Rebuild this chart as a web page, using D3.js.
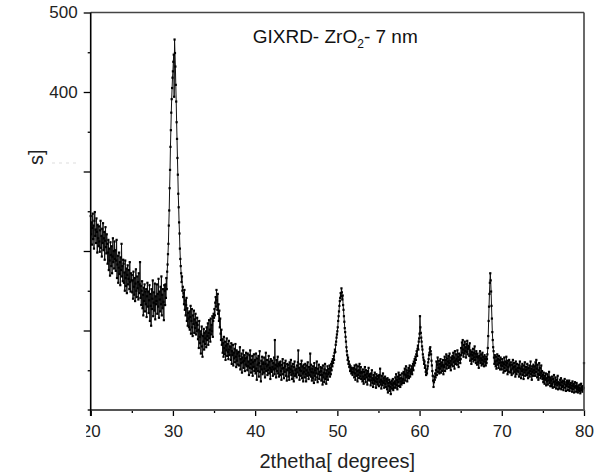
<!DOCTYPE html>
<html>
<head>
<meta charset="utf-8">
<script src="https://cdn.jsdelivr.net/npm/d3@7"></script>
<style>
  body { margin: 0; background: #fff; }
  svg { display: block; font-family: "Liberation Sans", Arial, sans-serif; }
</style>
</head>
<body>
<div id="chart"></div>
<script>
// GIXRD scan, counts every 0.05 degree (one row = one degree)
const startAngle = 20;
const stepAngle = 0.05;

const counts20to30 = [
    244, 221, 236, 208, 229, 247, 215, 232, 203, 238, 249, 219, 227, 210, 241, 224, 198, 233, 216, 206,
    231, 212, 199, 226, 238, 204, 219, 193, 228, 210, 235, 201, 216, 224, 189, 213, 230, 205, 197, 221,
    209, 184, 198, 214, 176, 203, 188, 169, 211, 195, 181, 206, 172, 193, 216, 186, 200, 178, 212, 190,
    201, 175, 188, 214, 166, 183, 194, 160, 179, 198, 171, 186, 157, 192, 176, 209, 168, 181, 162, 189,
    184, 160, 173, 150, 188, 166, 156, 178, 147, 170, 182, 158, 165, 176, 152, 186, 161, 149, 172, 163,
    170, 148, 163, 140, 174, 155, 145, 166, 137, 159, 177, 150, 142, 168, 153, 161, 139, 172, 147, 158,
    186, 141, 156, 132, 150, 162, 128, 145, 119, 154, 137, 158, 124, 149, 133, 152, 117, 143, 160, 130,
    149, 122, 138, 157, 112, 146, 131, 106, 152, 127, 140, 163, 118, 135, 148, 125, 159, 114, 143, 133,
    137, 158, 121, 146, 130, 165, 116, 149, 139, 124, 155, 133, 168, 119, 145, 128, 152, 136, 113, 157,
    150, 132, 158, 141, 166, 152, 174, 183, 196, 209, 232, 251, 279, 302, 331, 352, 374, 391, 405, 418
];
const counts30to40 = [
    426, 438, 447, 394, 466, 449, 432, 409, 388, 362, 341, 317, 296, 272, 255, 236, 222, 203, 190, 181,
    172, 161, 168, 150, 155, 142, 147, 133, 151, 126, 138, 119, 132, 141, 112, 128, 106, 122, 115, 104,
    124, 101, 117, 131, 96, 112, 127, 104, 93, 119, 108, 125, 97, 114, 103, 121, 95, 110, 99, 116,
    107, 89, 101, 78, 112, 92, 84, 99, 71, 95, 105, 80, 67, 93, 86, 102, 76, 97, 83, 90,
    99, 79, 104, 88, 93, 109, 82, 97, 113, 90, 101, 86, 115, 95, 107, 99, 118, 92, 112, 121,
    116, 127, 119, 135, 142, 130, 151, 138, 126, 146, 121, 133, 112, 125, 104, 115, 96, 88, 101, 82,
    89, 72, 84, 67, 92, 78, 70, 86, 63, 81, 75, 90, 68, 83, 73, 64, 87, 76, 69, 80,
    79, 63, 84, 58, 74, 69, 82, 56, 72, 65, 77, 60, 83, 67, 54, 75, 62, 71, 57, 73,
    73, 56, 68, 79, 51, 64, 59, 71, 47, 66, 60, 75, 53, 62, 69, 49, 65, 57, 72, 55,
    66, 50, 71, 55, 61, 44, 69, 53, 75, 58, 47, 63, 52, 68, 43, 60, 54, 70, 49, 62
];
const counts40to50 = [
    63, 46, 71, 52, 38, 65, 57, 49, 68, 42, 59, 74, 48, 55, 36, 62, 51, 67, 45, 58,
    60, 47, 66, 52, 41, 58, 72, 49, 55, 63, 44, 57, 50, 68, 46, 61, 53, 39, 64, 51,
    48, 62, 54, 43, 59, 51, 66, 45, 88, 52, 57, 41, 63, 49, 55, 67, 46, 58, 42, 60,
    56, 44, 61, 49, 38, 57, 52, 64, 45, 53, 40, 59, 48, 55, 62, 43, 51, 37, 58, 50,
    57, 42, 53, 38, 60, 47, 51, 63, 44, 55, 39, 49, 58, 46, 36, 54, 61, 43, 50, 45,
    52, 41, 56, 47, 60, 75, 44, 53, 38, 50, 58, 43, 49, 62, 40, 55, 46, 36, 57, 48,
    53, 41, 58, 45, 36, 50, 56, 43, 60, 47, 39, 54, 44, 51, 71, 42, 57, 48, 37, 52,
    40, 55, 47, 34, 59, 43, 50, 38, 53, 46, 61, 41, 35, 52, 45, 57, 39, 48, 44, 54,
    49, 37, 53, 44, 32, 56, 41, 47, 35, 51, 58, 39, 46, 33, 50, 42, 55, 38, 45, 52,
    47, 56, 42, 53, 45, 58, 50, 61, 55, 64, 59, 68, 63, 72, 76, 73, 82, 86, 91, 95
];
const counts50to60 = [
    99, 104, 112, 118, 124, 131, 137, 141, 147, 143, 153, 148, 139, 144, 132, 126, 118, 111, 103, 98,
    92, 86, 79, 74, 69, 63, 66, 58, 61, 54, 57, 49, 55, 51, 46, 53, 48, 44, 52, 47,
    53, 41, 56, 46, 38, 51, 57, 43, 49, 36, 55, 44, 50, 40, 58, 47, 42, 54, 39, 48,
    47, 36, 51, 42, 33, 48, 39, 54, 44, 35, 50, 41, 46, 32, 49, 38, 53, 43, 37, 45,
    42, 31, 46, 37, 50, 34, 40, 29, 44, 38, 33, 47, 36, 41, 28, 45, 35, 39, 32, 43,
    41, 30, 44, 35, 52, 32, 38, 27, 43, 36, 31, 46, 34, 40, 28, 37, 42, 33, 29, 39,
    36, 26, 40, 22, 34, 30, 38, 24, 35, 29, 20, 33, 37, 27, 31, 39, 25, 34, 28, 36,
    33, 41, 28, 45, 31, 38, 26, 42, 35, 47, 30, 39, 44, 29, 36, 40, 32, 46, 34, 37,
    39, 48, 34, 45, 52, 37, 44, 55, 41, 50, 36, 47, 43, 53, 40, 49, 56, 42, 46, 51,
    48, 55, 45, 52, 58, 50, 61, 56, 64, 59, 67, 63, 70, 74, 68, 77, 81, 76, 86, 90
];
const counts60to70 = [
    96, 118, 104, 97, 91, 86, 80, 76, 70, 66, 63, 58, 61, 53, 56, 48, 44, 50, 46, 52,
    55, 60, 64, 69, 72, 77, 79, 74, 70, 62, 56, 49, 43, 37, 29, 35, 42, 38, 46, 41,
    50, 61, 44, 57, 66, 48, 53, 62, 46, 58, 52, 64, 47, 55, 60, 49, 57, 63, 45, 56,
    54, 67, 49, 63, 58, 70, 52, 65, 56, 61, 68, 53, 59, 71, 55, 62, 50, 66, 57, 64,
    68, 55, 72, 60, 66, 52, 74, 62, 58, 70, 64, 57, 75, 61, 67, 54, 71, 63, 69, 59,
    64, 78, 69, 85, 72, 88, 76, 67, 82, 71, 86, 74, 79, 66, 83, 73, 87, 70, 77, 81,
    79, 68, 84, 62, 75, 70, 58, 73, 64, 69, 77, 61, 72, 66, 80, 63, 71, 59, 74, 67,
    57, 71, 60, 66, 53, 68, 62, 74, 59, 65, 70, 56, 63, 72, 58, 67, 61, 55, 69, 64,
    61, 56, 67, 59, 64, 70, 78, 93, 112, 130, 146, 160, 172, 163, 149, 131, 115, 98, 88, 79,
    74, 66, 58, 69, 61, 55, 67, 52, 62, 70, 57, 64, 53, 68, 59, 63, 51, 66, 56, 60
];
const counts70to80 = [
    51, 64, 55, 60, 47, 58, 66, 53, 49, 61, 56, 67, 50, 59, 45, 62, 54, 48, 63, 57,
    56, 47, 60, 50, 44, 57, 52, 63, 46, 54, 59, 48, 55, 42, 61, 51, 45, 58, 49, 53,
    48, 57, 42, 53, 61, 45, 52, 40, 55, 49, 58, 44, 51, 39, 56, 47, 60, 43, 50, 54,
    51, 44, 58, 46, 40, 53, 47, 56, 42, 49, 61, 45, 52, 38, 55, 48, 43, 57, 50, 46,
    55, 43, 60, 48, 63, 52, 41, 57, 45, 38, 50, 59, 44, 53, 40, 47, 56, 42, 49, 39,
    44, 35, 47, 40, 33, 43, 38, 46, 31, 40, 36, 45, 32, 42, 37, 48, 34, 41, 30, 39,
    37, 30, 42, 33, 28, 39, 35, 44, 29, 36, 32, 41, 27, 38, 34, 31, 43, 26, 35, 33,
    34, 27, 38, 31, 40, 26, 35, 29, 37, 30, 25, 36, 33, 39, 28, 32, 24, 35, 30, 37,
    33, 25, 35, 29, 37, 24, 32, 28, 34, 27, 31, 23, 36, 26, 30, 33, 22, 29, 35, 28,
    30, 23, 34, 26, 29, 22, 31, 25, 28, 24, 32, 21, 27, 33, 25, 29, 23, 30, 26, 28,
    59
];

const xTicks = [20, 30, 40, 50, 60, 70, 80];
const xMinorTicks = [25, 35, 45, 55, 65, 75];
const yTicks = [100, 200, 300, 400, 500];
const yMinorTicks = [50, 150, 250, 350, 450];
const yLabelled = [400, 500];

const width = 613;
const height = 476;
const plotLeft = 90.7, plotRight = 584, plotTop = 12.5, plotBottom = 410;

const counts = [].concat(counts20to30, counts30to40, counts40to50,
    counts50to60, counts60to70, counts70to80);
const data = counts.map((c, i) => ({ angle: startAngle + i * stepAngle, count: c }));

const svg = d3.select('#chart')
    .append('svg')
    .attr('width', width)
    .attr('height', height);

const x = d3.scaleLinear().domain([20, 80]).range([plotLeft, plotRight]);
const y = d3.scaleLinear().domain([0, 500]).range([plotBottom, plotTop]);

// the trace: thin line with a tiny square on every point
const line = d3.line()
    .x(d => x(d.angle))
    .y(d => y(d.count));

svg.append('path')
    .datum(data)
    .attr('d', line)
    .attr('fill', 'none')
    .attr('stroke', '#111')
    .attr('stroke-width', 1);

svg.append('g')
    .selectAll('rect')
    .data(data)
    .enter()
    .append('rect')
    .attr('x', d => x(d.angle) - 1.1)
    .attr('y', d => y(d.count) - 1.1)
    .attr('width', 2.2)
    .attr('height', 2.2)
    .attr('fill', '#000');

// axes
svg.append('g')
    .attr('transform', `translate(0, ${plotBottom})`)
    .call(d3.axisBottom(x).tickValues(xTicks).tickSize(6).tickPadding(9));
svg.append('g')
    .attr('transform', `translate(0, ${plotBottom})`)
    .call(d3.axisBottom(x).tickValues(xMinorTicks).tickSize(3).tickFormat(''));

svg.append('g')
    .attr('transform', `translate(${plotLeft}, 0)`)
    .call(d3.axisLeft(y).tickValues(yTicks).tickSize(7).tickPadding(6)
        .tickFormat(d => yLabelled.includes(d) ? d : ''));
svg.append('g')
    .attr('transform', `translate(${plotLeft}, 0)`)
    .call(d3.axisLeft(y).tickValues(yMinorTicks).tickSize(3).tickFormat(''));

svg.selectAll('.domain').remove();
svg.selectAll('.tick line').attr('stroke', '#000').attr('stroke-width', 1.3);
svg.selectAll('.tick text')
    .attr('fill', '#222')
    .style('font-family', '"Liberation Sans", Arial, sans-serif')
    .style('font-size', '17px');

// frame
svg.append('line').attr('x1', plotLeft).attr('x2', plotRight).attr('y1', plotTop).attr('y2', plotTop)
    .attr('stroke', '#444').attr('stroke-width', 1.6);
svg.append('line').attr('x1', plotRight).attr('x2', plotRight).attr('y1', plotTop).attr('y2', plotBottom)
    .attr('stroke', '#444').attr('stroke-width', 1.6);
svg.append('line').attr('x1', plotLeft - 3).attr('x2', plotRight + 1).attr('y1', plotBottom).attr('y2', plotBottom)
    .attr('stroke', '#555').attr('stroke-width', 2.2);
svg.append('line').attr('x1', plotLeft).attr('x2', plotLeft).attr('y1', plotTop).attr('y2', plotBottom + 6)
    .attr('stroke', '#000').attr('stroke-width', 1.6);

// the "20" label is cut off on the left in the original
svg.append('rect')
    .attr('x', 0).attr('y', plotBottom + 8)
    .attr('width', x(20) - 4.5).attr('height', 30)
    .attr('fill', '#fff');

// labels
svg.append('text')
    .attr('x', (plotLeft + plotRight) / 2)
    .attr('y', 468)
    .attr('text-anchor', 'middle')
    .attr('fill', '#222')
    .style('font-size', '20px')
    .text('2thetha[ degrees]');

svg.append('text')
    .attr('transform', 'translate(43, 165) rotate(-90)')
    .attr('fill', '#222')
    .style('font-size', '20px')
    .text('s]');

svg.append('line')
    .attr('x1', 52).attr('x2', 76).attr('y1', 163).attr('y2', 163)
    .attr('stroke', '#ddd').attr('stroke-dasharray', '3,4');

const title = svg.append('text')
    .attr('x', 252.7)
    .attr('y', 43.3)
    .attr('fill', '#111')
    .style('font-size', '19px');
title.append('tspan').text('GIXRD- ZrO');
title.append('tspan').attr('dy', 5).style('font-size', '12px').text('2');
title.append('tspan').attr('dy', -5).text('- 7 nm');
</script>
</body>
</html>
